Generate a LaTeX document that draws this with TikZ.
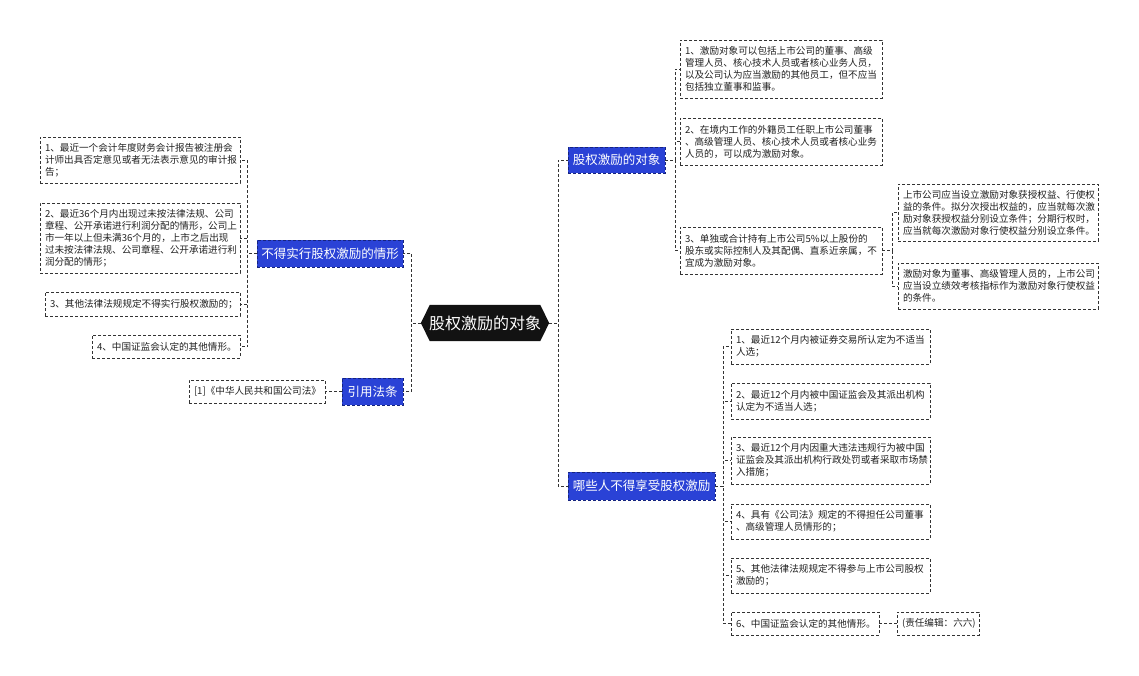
\documentclass[tikz,border=0pt]{standalone}
\usepackage{fontspec}
\setmainfont{Noto Sans CJK SC}
\usetikzlibrary{backgrounds}
\definecolor{bluefill}{HTML}{2A42D6}
\definecolor{blueedge}{HTML}{16247F}
\definecolor{linegray}{HTML}{333333}
\definecolor{txt}{HTML}{222222}
\tikzset{
  conn/.style={draw=linegray, line width=0.9pt, dash pattern=on 3pt off 2pt},
  leaf/.style={draw=linegray, line width=0.9pt, dash pattern=on 3pt off 2pt, fill=white,
    text=txt, font=\fontsize{9.6}{12}\selectfont, align=left, inner xsep=5pt, inner ysep=0pt},
  bluebox/.style={fill=bluefill, draw=blueedge, line width=0.9pt, dash pattern=on 3pt off 2pt,
    text=white, font=\fontsize{12.5}{14}\selectfont, inner sep=0pt},
}
\newcommand\leaf[6]{\node[leaf, text width=#4pt-10pt, minimum width=#4pt, minimum height=#5pt] (#1) at (#2,#3) {#6};}
\begin{document}
\begin{tikzpicture}[x=1pt,y=-1pt]
\useasboundingbox (0,0) rectangle (1139,675);
% root
\node[text=white, font=\fontsize{16}{18}\selectfont, minimum width=128pt, minimum height=36pt, inner sep=0pt] (root) at (485,323) {股权激励的对象};
\begin{scope}[on background layer]
\fill[black!93] (root.west) -- ([xshift=9pt]root.north west) -- ([xshift=-9pt]root.north east) -- (root.east) -- ([xshift=-9pt]root.south east) -- ([xshift=9pt]root.south west) -- cycle;
\end{scope}
% blue branches
\node[bluebox, minimum width=146pt, minimum height=27pt] (lb1) at (330,253.5) {不得实行股权激励的情形};
\node[bluebox, minimum width=61pt, minimum height=27pt] (lb2) at (372.5,391.5) {引用法条};
\node[bluebox, minimum width=97pt, minimum height=26pt] (rb1) at (616.5,160) {股权激励的对象};
\node[bluebox, minimum width=147pt, minimum height=28pt] (rb2) at (641.5,486) {哪些人不得享受股权激励};
% left leaves
\leaf{l1}{140}{160}{200}{46}{1、最近一个会计年度财务会计报告被注册会\\计师出具否定意见或者无法表示意见的审计报\\告；}
\leaf{l2}{140}{238}{200}{70}{2、最近36个月内出现过未按法律法规、公司\\章程、公开承诺进行利润分配的情形，公司上\\市一年以上但未满36个月的，上市之后出现\\过未按法律法规、公司章程、公开承诺进行利\\润分配的情形；}
\leaf{l3}{142.5}{304}{195}{24}{3、其他法律法规规定不得实行股权激励的；}
\leaf{l4}{166}{346.5}{148}{23}{4、中国证监会认定的其他情形。}
\leaf{lref}{257}{391.5}{136}{23}{[1]《中华人民共和国公司法》}
% right upper leaves
\leaf{r1}{781}{69}{202}{58}{1、激励对象可以包括上市公司的董事、高级\\管理人员、核心技术人员或者核心业务人员，\\以及公司认为应当激励的其他员工，但不应当\\包括独立董事和监事。}
\leaf{r2}{781}{141.5}{202}{47}{2、在境内工作的外籍员工任职上市公司董事\\、高级管理人员、核心技术人员或者核心业务\\人员的，可以成为激励对象。}
\leaf{r3}{781}{250.5}{202}{47}{3、单独或合计持有上市公司5\%以上股份的\\股东或实际控制人及其配偶、直系近亲属，不\\宜成为激励对象。}
\leaf{r3a}{998}{212.5}{200}{57}{上市公司应当设立激励对象获授权益、行使权\\益的条件。拟分次授出权益的，应当就每次激\\励对象获授权益分别设立条件；分期行权时，\\应当就每次激励对象行使权益分别设立条件。}
\leaf{r3b}{998}{286}{200}{46}{激励对象为董事、高级管理人员的，上市公司\\应当设立绩效考核指标作为激励对象行使权益\\的条件。}
% right lower leaves
\leaf{s1}{830.5}{346.5}{199}{35}{1、最近12个月内被证券交易所认定为不适当\\人选；}
\leaf{s2}{830.5}{401}{199}{36}{2、最近12个月内被中国证监会及其派出机构\\认定为不适当人选；}
\leaf{s3}{830.5}{460.5}{199}{47}{3、最近12个月内因重大违法违规行为被中国\\证监会及其派出机构行政处罚或者采取市场禁\\入措施；}
\leaf{s4}{830.5}{521.5}{199}{35}{4、具有《公司法》规定的不得担任公司董事\\、高级管理人员情形的；}
\leaf{s5}{830.5}{575.5}{199}{35}{5、其他法律法规规定不得参与上市公司股权\\激励的；}
\leaf{s6}{805}{623.5}{148}{23}{6、中国证监会认定的其他情形。}
\leaf{s6c}{938}{623.5}{82}{23}{(责任编辑：六六)}
% connectors
\foreach \c in {lb1,lb2} \draw[conn] (root.west) -- ++(-9,0) |- (\c.east);
\foreach \c in {rb1,rb2} \draw[conn] (root.east) -- ++(9,0) |- (\c.west);
\foreach \c in {l1,l2,l3,l4} \draw[conn] (lb1.west) -- ++(-9,0) |- (\c.east);
\draw[conn] (lb2.west) -- (lref.east);
\foreach \c in {r1,r2,r3} \draw[conn] (rb1.east) -- ++(10,0) |- (\c.west);
\foreach \c in {r3a,r3b} \draw[conn] (r3.east) -- ++(10,0) |- (\c.west);
\foreach \c in {s1,s2,s3,s4,s5,s6} \draw[conn] (rb2.east) -- ++(8,0) |- (\c.west);
\draw[conn] (s6.east) -- (s6c.west);
\end{tikzpicture}
\end{document}
